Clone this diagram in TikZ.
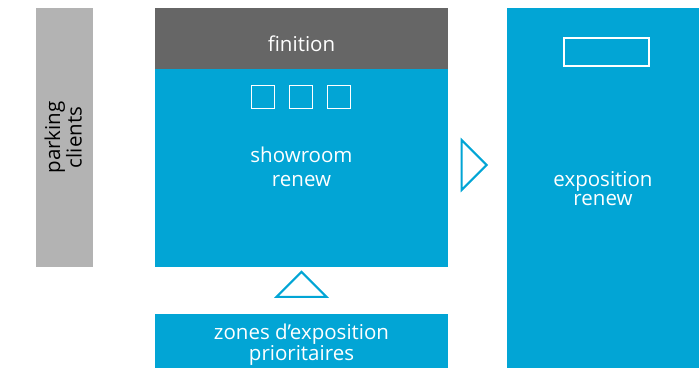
\documentclass[tikz,border=0pt]{standalone}
\usepackage{fontspec}
\setmainfont{Open Sans}
\usetikzlibrary{shapes.geometric}
\definecolor{zoneblue}{HTML}{02A5D5}
\definecolor{zonegrey}{HTML}{B3B3B3}
\definecolor{zonedark}{HTML}{666666}
\tikzset{
  zone/.style={rectangle, inner sep=0pt, align=center, text=white,
    text depth=0pt, font=\fontsize{20.5}{24}\selectfont},
  mark box/.style={draw=white, line width=1.4pt, inner sep=0pt},
  pointer/.style={isosceles triangle, isosceles triangle apex angle=90,
    draw=zoneblue, line width=2pt, fill=white, inner sep=0pt}
}

\begin{document}
\begin{tikzpicture}[x=1pt, y=-1pt]
\useasboundingbox (0,0) rectangle (699,368);
% parking on the left
\node[zone, fill=zonegrey, text=black, minimum width=259pt, minimum height=57pt,
  rotate=90, text height=34.4pt,
  font=\fontsize{20.5}{16}\selectfont] (parking) at (64.5,137.5) {parking\\clients};
% central block
\node[zone, fill=zonedark, minimum width=293pt, minimum height=61pt,
  text height=26.4pt] (finition) at (301.5,38.5) {finition};
\node[zone, fill=zoneblue, minimum width=293pt, minimum height=198pt,
  text height=37.4pt] (showroom) at (301.5,168) {showroom\\renew};
\foreach \x/\n in {263/a, 301/b, 339/c}
  \node[mark box, minimum size=23pt] (slot\n) at (\x,97) {};
\node[zone, fill=zoneblue, minimum width=293pt, minimum height=54pt,
  text height=38pt,
  font=\fontsize{20.5}{18.5}\selectfont] (zones) at (301.5,341) {zones d’exposition\\prioritaires};
% right block
\node[zone, fill=zoneblue, minimum width=192pt, minimum height=360pt,
  text height=35.4pt,
  font=\fontsize{20.5}{19}\selectfont] (expo) at (603,188) {exposition\\renew};
\node[mark box, minimum width=85pt, minimum height=28pt] (panel) at (606.5,52) {};
% arrows
\node[pointer, minimum width=50pt, minimum height=25pt, shape border rotate=90] (up) at (301.5,286.5) {};
\node[pointer, minimum width=50pt, minimum height=25pt, shape border rotate=0] (right) at (472,165) {};
\end{tikzpicture}
\end{document}
